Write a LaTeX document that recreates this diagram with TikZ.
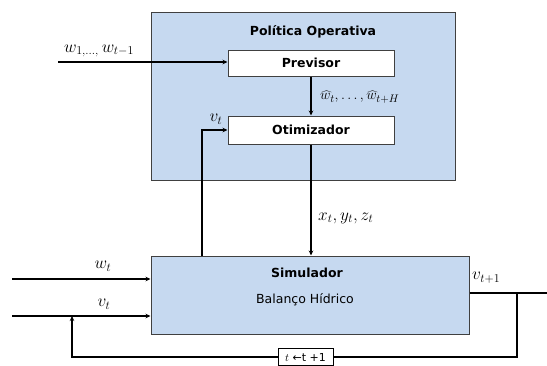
\documentclass[tikz,border=0pt]{standalone}
\usepackage{fontspec}
\setmainfont{DejaVu Sans}
\usepackage{tikz}
\usetikzlibrary{arrows.meta}
\definecolor{panelblue}{RGB}{198,217,240}
\definecolor{edgegray}{RGB}{64,64,64}

\begin{document}
\begin{tikzpicture}[x=1pt, y=-1pt,
    >={Stealth[length=5pt,width=4.5pt]},
    line/.style={line width=1.3pt},
    panel/.style={draw=edgegray, line width=1pt, fill=panelblue, inner sep=0pt},
    block/.style={draw=edgegray, line width=1pt, fill=white, inner sep=0pt,
        minimum width=166pt, font=\fontsize{12.5}{14}\selectfont\bfseries},
    lbl/.style={inner sep=0pt, font=\fontsize{17}{19}\selectfont},
    counter/.style={draw=black, line width=1pt, fill=white, inner sep=1.5pt,
        minimum width=55pt, minimum height=17pt, font=\fontsize{11}{13}\selectfont}
]
\useasboundingbox (0,0) rectangle (547,365);

\node[panel, minimum width=304pt, minimum height=168pt] (politica) at (303,96) {};
\node[inner sep=0pt, font=\fontsize{12.5}{14}\selectfont\bfseries] (titulo) at (313,32) {Política Operativa};

\node[block, minimum height=26pt] (previsor) at (311,63) {Previsor};
\node[block, minimum height=28pt] (otimizador) at (311,130) {Otimizador};

\node[panel, minimum width=318pt, minimum height=78pt] (simulador) at (310,295) {};
\node[inner sep=0pt, font=\fontsize{12.5}{14}\selectfont\bfseries] (simtit) at (307,273) {Simulador};
\node[inner sep=0pt, font=\fontsize{12.5}{14}\selectfont] (balanco) at (305,300) {Balanço Hídrico};

\node[counter] (incr) at (305.5,357) {$t$ ←t +1};

\coordinate (win) at (58,62);
\coordinate (vtup) at (202,256);
\coordinate (wa) at (12,279);
\coordinate (va) at (12,316);
\coordinate (vout) at (547,293);
\coordinate (loopr) at (517,293);
\coordinate (loopl) at (72,316);

\draw[line, ->] (win) -- (win -| previsor.west);
\draw[line, ->] (previsor) -- (otimizador);
\draw[line, ->] (vtup) |- (otimizador.west);
\draw[line, ->] (otimizador.south) -- (otimizador.south |- simulador.north);
\draw[line, ->] (wa) -- (wa -| simulador.west);
\draw[line, ->] (va) -- (va -| simulador.west);
\draw[line] (simulador.east |- vout) -- (vout);
\draw[line] (loopr) |- (incr.east);
\draw[line, ->] (incr.west) -| (loopl);

\node[lbl, anchor=west] (lw) at (64,51) {$w_{1,\ldots,}\,w_{t-1}$};
\node[lbl, anchor=west, font=\fontsize{15.5}{18}\selectfont] (lwhat) at (320,97) {$\widehat{w}_t,\ldots,\widehat{w}_{t+H}$};
\node[lbl] (lvt) at (216,119) {$v_t$};
\node[lbl, anchor=west] (lxyz) at (318,218) {$x_t,y_t,z_t$};
\node[lbl] (lwt) at (103,266) {$w_t$};
\node[lbl] (lvin) at (104,304) {$v_t$};
\node[lbl, anchor=west] (lvout) at (472,278) {$v_{t+1}$};

\end{tikzpicture}
\end{document}
